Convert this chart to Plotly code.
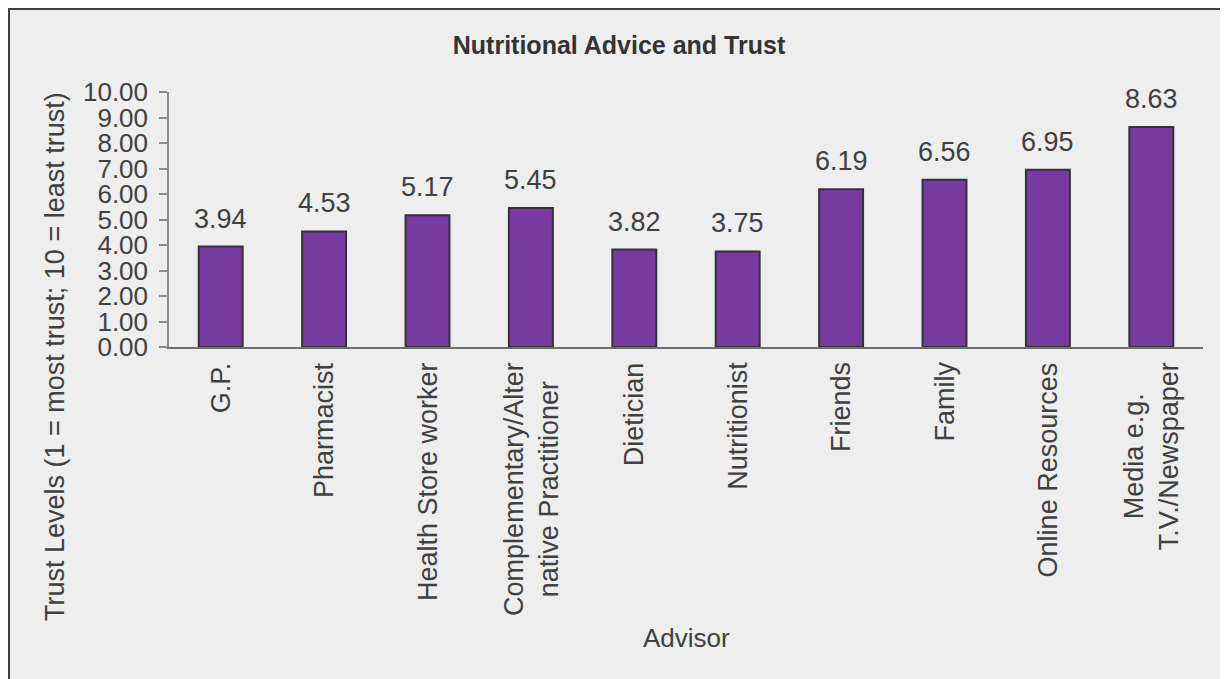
import plotly.graph_objects as go

categories = ["G.P.", "Pharmacist", "Health Store worker", "Complementary/Alter<br>native Practitioner",
              "Dietician", "Nutritionist", "Friends", "Family", "Online Resources",
              "Media e.g.<br>T.V./Newspaper"]
values = [3.94, 4.53, 5.17, 5.45, 3.82, 3.75, 6.19, 6.56, 6.95, 8.63]
y_ticks = [0, 1, 2, 3, 4, 5, 6, 7, 8, 9, 10]

W, H = 1228, 679
OFF = 8  # page body margin
L, T = 169 - OFF, 92 - OFF
R = W - (1203 - OFF)
B = H - (347 - OFF)
pw, ph = W - L - R, H - T - B

def px_x(p):  # screenshot x -> paper
    return (p - OFF - L) / pw

def px_y(p):  # screenshot y -> paper
    return (H - B - (p - OFF)) / ph

FONT = "Liberation Sans, Arial, sans-serif"
TXT = "#404040"
xs = list(range(len(categories)))

fig = go.Figure()
fig.add_trace(go.Bar(
    x=xs, y=values, width=0.425,
    marker=dict(color="#763AA1", line=dict(color="#333333", width=2)),
    hoverinfo="skip", showlegend=False,
))

# value labels above bars
annotations = [
    dict(x=i, y=v, xref="x", yref="y", text=f"{v:.2f}", showarrow=False, yanchor="bottom",
         yshift=11, font=dict(family=FONT, size=27, color=TXT))
    for i, v in zip(xs, values)
]
# category labels (rotated, centre-aligned lines)
annotations += [
    dict(x=i, y=0, xref="x", yref="y", text=c, textangle=-90, showarrow=False,
         xanchor="center", yanchor="top", yshift=-13, align="center",
         font=dict(family=FONT, size=27, color=TXT))
    for i, c in zip(xs, categories)
]
annotations += [
    dict(text="Trust Levels (1 = most trust; 10 = least trust)", xref="paper", yref="paper",
         x=px_x(55), y=px_y(357), textangle=-90, showarrow=False,
         xanchor="center", yanchor="middle", font=dict(family=FONT, size=27, color=TXT)),
    dict(text="Advisor", xref="paper", yref="paper", x=0.5, y=px_y(638),
         showarrow=False, xanchor="center", yanchor="middle",
         font=dict(family=FONT, size=26, color=TXT)),
]

fig.update_layout(
    width=W, height=H,
    margin=dict(l=L, r=R, t=T, b=B, autoexpand=False),
    paper_bgcolor="#EEEEEE", plot_bgcolor="rgba(0,0,0,0)",
    font=dict(family=FONT, size=26, color=TXT),
    title=dict(text="<b>Nutritional Advice and Trust</b>", xref="container", yref="container",
               x=(619 - OFF) / W, y=1 - (45 - OFF) / H, xanchor="center", yanchor="middle",
               font=dict(family=FONT, size=25, color="#333333")),
    xaxis=dict(
        tickmode="array", tickvals=xs, showticklabels=False,
        range=[-0.5, len(categories) - 0.5],
        showline=True, linecolor="#6e6e6e", linewidth=1.5, ticks="",
        showgrid=False, zeroline=False,
    ),
    yaxis=dict(
        range=[0, 10], tickmode="array", tickvals=y_ticks,
        ticktext=[f"{t:.2f}" for t in y_ticks],
        showline=True, linecolor="#8c8c8c", linewidth=1.5,
        ticks="outside", ticklen=8, tickcolor="#8c8c8c", tickwidth=1.5,
        showgrid=False, zeroline=False, ticklabelstandoff=6,
        tickfont=dict(family=FONT, size=26, color=TXT),
    ),
    shapes=[dict(type="rect", xref="paper", yref="paper",
                 x0=px_x(OFF + 1), x1=px_x(W + 40), y0=px_y(H + 40), y1=px_y(OFF + 1),
                 line=dict(color="#404040", width=2), fillcolor="rgba(0,0,0,0)", layer="below")],
    annotations=annotations,
)

fig.write_html("out.html")
